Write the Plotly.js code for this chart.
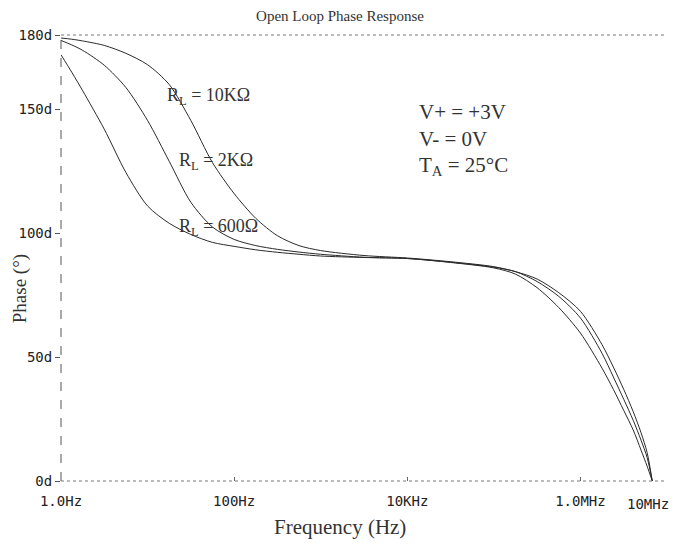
<!DOCTYPE html>
<html>
<head>
<meta charset="utf-8">
<script src="https://cdn.plot.ly/plotly-3.0.1.min.js"></script>
<style>html,body{margin:0;padding:0;background:#fff;}#chart{width:680px;height:546px;}</style>
</head>
<body>
<div id="chart"></div>
<script>
// Frequency points (Hz)
const freqHz = [1, 1.33, 1.78, 3.16, 5.62, 10, 17.8, 31.6, 56.2, 100, 178, 316, 562, 1000, 3162, 10000, 31623, 100000, 177828, 316228, 562341, 1000000, 1778279, 2400000, 3162278, 4070000, 5010000, 5890000, 6760000];
// Phase (degrees) per load
const phase10K = [178.8, 178.3, 177.6, 175.8, 172.6, 168, 160, 145.5, 128.5, 116, 106, 99, 95, 93, 91, 90, 88.5, 86.5, 84.5, 81.5, 76, 68.5, 55, 46, 37, 28, 19.5, 11.5, 0];
const phase2K  = [177.8, 176, 173.8, 167.8, 158.8, 145.5, 129, 112.5, 102.5, 97.5, 95, 93.5, 92.4, 91.5, 90.3, 89.8, 88.3, 86.3, 84.5, 80.5, 74.5, 65.8, 51.5, 42, 33, 24.5, 16.5, 9.5, 0];
const phase600 = [172, 165, 157.5, 142, 124.5, 111, 104, 99.5, 96.3, 94.7, 93.3, 92.3, 91.5, 90.8, 90.2, 89.8, 88.2, 86, 83.5, 78, 70, 59.7, 45.5, 37, 28.5, 20.6, 12.5, 6, 0];
// Axis ticks
const xTickVals = [1, 100, 10000, 1000000];
const xTickText = ['1.0Hz', '100Hz', '10KHz', '1.0MHz'];
const yTickVals = [0, 50, 100, 150, 180];
const yTickText = ['0d', '50d', '100d', '150d', '180d'];

const series = [
  {name: 'RL = 10KΩ', y: phase10K},
  {name: 'RL = 2KΩ', y: phase2K},
  {name: 'RL = 600Ω', y: phase600}
];
const traces = series.map(s => ({
  x: freqHz, y: s.y, name: s.name, mode: 'lines', hoverinfo: 'skip',
  line: {color: '#2a2a2a', width: 1, shape: 'spline', smoothing: 0.8}
}));

const serif = 'Liberation Serif, Times New Roman, serif';
const mono = 'DejaVu Sans Mono, monospace';
const rlFont = {family: serif, size: 18, color: '#333'};
const condFont = {family: serif, size: 21, color: '#333'};
const tickFont = {family: mono, size: 14, color: '#222'};

const layout = {
  width: 680, height: 546,
  margin: {l: 61, r: 13, t: 35, b: 65},
  paper_bgcolor: '#fff', plot_bgcolor: '#fff',
  showlegend: false,
  title: {text: 'Open Loop Phase Response', x: 0.5, xref: 'container', y: 0.972, yanchor: 'middle',
          font: {family: serif, size: 15, color: '#333'}},
  xaxis: {type: 'log', range: [0, 7], tickvals: xTickVals, ticktext: xTickText,
          showgrid: false, zeroline: false, showline: false,
          ticks: 'inside', ticklen: 4, tickcolor: '#666', ticklabelstandoff: 10,
          tickfont: tickFont},
  yaxis: {range: [0, 180], tickvals: yTickVals, ticktext: yTickText,
          showgrid: false, zeroline: false, showline: false,
          ticks: 'outside', ticklen: 5, tickcolor: '#555', ticklabelstandoff: 0,
          tickfont: tickFont},
  shapes: [
    {type: 'line', xref: 'paper', yref: 'paper', x0: 0, x1: 0, y0: 0, y1: 1, line: {color: '#555', width: 1, dash: 'dash'}},
    {type: 'line', xref: 'paper', yref: 'paper', x0: 0, x1: 1, y0: 1, y1: 1, line: {color: '#777', width: 1, dash: 'dot'}},
    {type: 'line', xref: 'paper', yref: 'paper', x0: 0, x1: 1, y0: 0, y1: 0, line: {color: '#777', width: 1, dash: 'dot'}}
  ],
  annotations: [
    {xref: 'paper', yref: 'paper', x: 1, y: 0, xanchor: 'right', yanchor: 'middle', xshift: 4, yshift: -23,
     text: '10MHz', showarrow: false, font: tickFont},
    {xref: 'paper', yref: 'paper', x: 0.46, y: 0, yanchor: 'middle', yshift: -46,
     text: 'Frequency (Hz)', showarrow: false, font: {family: serif, size: 21, color: '#333'}},
    {xref: 'paper', yref: 'paper', x: 0, y: 0.43, xanchor: 'center', xshift: -41, textangle: -90,
     text: 'Phase (°)', showarrow: false, font: {family: serif, size: 19, color: '#333'}},
    {x: 1.2, y: 155, xanchor: 'left', text: 'R<sub>L</sub> = 10KΩ', showarrow: false, font: rlFont},
    {x: 1.34, y: 129, xanchor: 'left', text: 'R<sub>L</sub> = 2KΩ', showarrow: false, font: rlFont},
    {x: 1.34, y: 102.5, xanchor: 'left', text: 'R<sub>L</sub> = 600Ω', showarrow: false, font: rlFont},
    {x: 4.11, y: 149, xanchor: 'left', text: 'V+ = +3V', showarrow: false, font: condFont},
    {x: 4.11, y: 138, xanchor: 'left', text: 'V- = 0V', showarrow: false, font: condFont},
    {x: 4.11, y: 127, xanchor: 'left', text: 'T<sub>A</sub> = 25°C', showarrow: false, font: condFont}
  ]
};

Plotly.newPlot('chart', traces, layout, {displayModeBar: false, staticPlot: true});
</script>
</body>
</html>
